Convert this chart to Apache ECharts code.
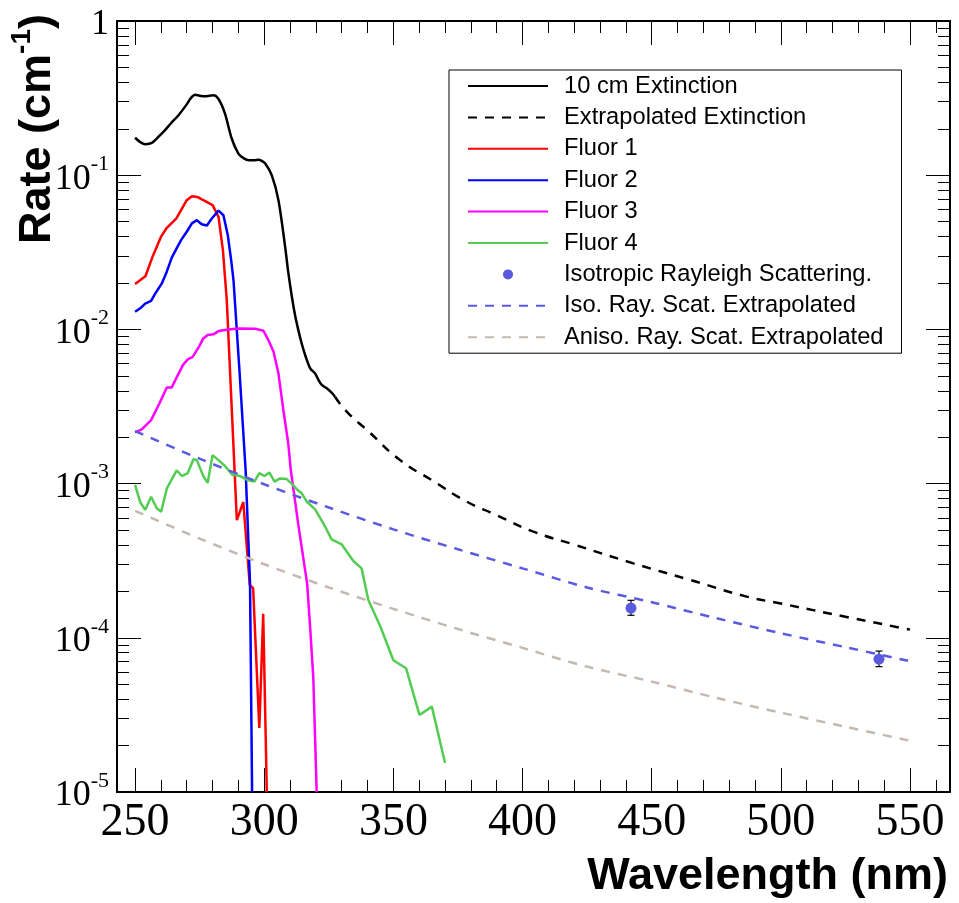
<!DOCTYPE html>
<html><head><meta charset="utf-8">
<script src="https://cdn.jsdelivr.net/npm/echarts@6/dist/echarts.min.js"></script>
<style>html,body{margin:0;padding:0;background:#fff}#c{width:959px;height:903px}</style>
</head><body><div id="c"></div><script>
// ---- data (wavelength nm, rate cm^-1) ----
const ext10cm = [[250,0.175],[252,0.164],[254,0.159],[256.5,0.162],[259,0.177],[261.6,0.196],[264,0.218],[266.8,0.245],[270,0.288],[271.5,0.315],[273.2,0.333],[275,0.328],[277.1,0.325],[280.3,0.33],[282.3,0.312],[284.8,0.251],[287.4,0.173],[290,0.138],[292,0.129],[294,0.125],[296,0.125],[297.7,0.126],[299,0.124],[300.4,0.119],[302.9,0.1],[305.5,0.0689],[308.1,0.0343],[309.3,0.0235],[310.7,0.0163],[312,0.0122],[313.2,0.00989],[314.5,0.0081],[316,0.0067],[317.8,0.00559],[319.7,0.00518],[321,0.0047],[322.3,0.00436],[324.2,0.00415],[326,0.0039],[327.4,0.00366]];
const extExtrap = [[327.4,0.00366],[332,0.00292],[340,0.00221],[352.6,0.00142],[365,0.00105],[378.4,7.64e-4],[390,6.24e-4],[404.2,4.88e-4],[420,4.02e-4],[442.9,3.04e-4],[465,2.37e-4],[486.8,1.85e-4],[500,1.67e-4],[525,1.37e-4],[550,1.13e-4]];
const fluor1 = [[250,0.0197],[254,0.0221],[257,0.0303],[260,0.0398],[262.3,0.0456],[266,0.0524],[270,0.0689],[272,0.0731],[274,0.0723],[277,0.0681],[280,0.064],[282.3,0.0537],[284,0.0327],[285.5,0.0155],[289.4,5.8e-4],[291.9,7.6e-4],[294.4,2.2e-4],[295.7,2.1e-4],[298.1,2.6e-5],[299.6,1.43e-4],[301,1e-5]];
const fluor2 = [[250,0.013],[252,0.0137],[253.9,0.0147],[256.2,0.0153],[258,0.0173],[260.3,0.0198],[262.2,0.0235],[264.2,0.0292],[266.4,0.0343],[267.8,0.0379],[270,0.043],[272,0.0487],[273.9,0.0511],[275.8,0.0481],[277.8,0.0472],[279.7,0.0524],[282.3,0.0589],[284.2,0.055],[285.9,0.0408],[287.2,0.0281],[288.1,0.0209],[290.4,5.45e-3],[292.8,1.22e-3],[294.5,2.26e-4],[295.3,1e-5]];
const fluor3 = [[250,2.15e-3],[252.6,2.25e-3],[256.2,2.58e-3],[259.4,3.31e-3],[262.3,4.2e-3],[264.2,4.2e-3],[265.9,4.81e-3],[268.5,5.87e-3],[270.4,6.39e-3],[272.3,6.64e-3],[274.7,7.7e-3],[276.4,8.74e-3],[278.1,9.19e-3],[280.3,9.29e-3],[282.3,9.75e-3],[286.1,0.01],[290,0.01015],[296.5,0.0101],[299.7,9.8e-3],[301.6,8.53e-3],[303.6,7.16e-3],[305.5,5.19e-3],[307.4,3.0e-3],[309.3,1.82e-3],[310.3,1.22e-3],[313.3,5.26e-4],[316.6,2.26e-4],[317.8,1.15e-4],[319,5.5e-5],[320.3,1e-5]];
const fluor4 = [[250,9.8e-4],[251.9,7.63e-4],[253.9,6.75e-4],[256.2,8.22e-4],[258.4,6.92e-4],[260.1,6.57e-4],[262.3,9.31e-4],[266.1,1.22e-3],[268.1,1.12e-3],[270.4,1.17e-3],[272.6,1.44e-3],[273.9,1.42e-3],[276.5,1.11e-3],[278.1,1.01e-3],[280,1.53e-3],[282.3,1.42e-3],[284.8,1.3e-3],[287.7,1.14e-3],[290.6,1.12e-3],[293.9,1.05e-3],[296.2,1.03e-3],[298.1,1.17e-3],[300.1,1.12e-3],[302,1.18e-3],[304,1.03e-3],[306.1,1.08e-3],[308.7,1.07e-3],[310.6,1.0e-3],[312.6,9.2e-4],[314.5,8.65e-4],[316.5,7.63e-4],[319.7,6.8e-4],[322.9,5.53e-4],[326.1,4.35e-4],[330,4.03e-4],[334.5,3.15e-4],[337.7,2.82e-4],[340.3,1.76e-4],[345,1.18e-4],[350,7.15e-5],[354.9,6.35e-5],[360.1,3.16e-5],[364.9,3.58e-5],[370,1.54e-5]];
const rayleighWl = [442, 538];
const rayleighRate = [1.56e-4, 7.27e-5];
const rayleighLo = [1.40e-4, 6.5e-5];
const rayleighHi = [1.75e-4, 8.2e-5];
const isoExtrap = [[250,2.19e-3],[275,1.45e-3],[300,9.9e-4],[325,7.0e-4],[350,5.05e-4],[375,3.75e-4],[400,2.82e-4],[425,2.12e-4],[450,1.70e-4],[475,1.34e-4],[500,1.07e-4],[525,8.7e-5],[550,7.05e-5]];
const anisoExtrap = [[250,6.65e-4],[275,4.4e-4],[300,3.0e-4],[325,2.12e-4],[350,1.54e-4],[375,1.14e-4],[400,8.6e-5],[425,6.5e-5],[450,5.2e-5],[475,4.08e-5],[500,3.27e-5],[525,2.65e-5],[550,2.15e-5]];
const seriesNames = ['10 cm Extinction','Extrapolated Extinction','Fluor 1','Fluor 2','Fluor 3','Fluor 4','Isotropic Rayleigh Scattering.','Iso. Ray. Scat. Extrapolated','Aniso. Ray. Scat. Extrapolated'];

const chart = echarts.init(document.getElementById('c'), null, {renderer:'canvas'});
const serif = 'Liberation Serif, Times New Roman, serif';
const sans = 'Liberation Sans, Arial, Helvetica, sans-serif';

function xAx(pos, showLabel) {
  return {
    type:'value', position:pos, min:243, max:565.5, splitNumber:6,
    axisLine:{show:true, onZero:false, lineStyle:{color:'#000', width:2}},
    axisTick:{show:true, inside:true, length:24, lineStyle:{color:'#000', width:1}},
    minorTick:{show:true, splitNumber:5, length:12, lineStyle:{color:'#000', width:1}},
    splitLine:{show:false}, minorSplitLine:{show:false},
    axisLabel:{show:showLabel, color:'#000', fontFamily:serif, fontSize:46, margin:8,
      formatter:v => (Math.abs(v % 50) < 1e-9 ? String(v) : '')}
  };
}
function yAx(pos, showLabel) {
  return {
    type:'log', logBase:10, position:pos, min:1e-5, max:1, splitNumber:5,
    axisLine:{show:true, onZero:false, lineStyle:{color:'#000', width:2}},
    axisTick:{show:true, inside:true, length:24, lineStyle:{color:'#000', width:1}},
    minorTick:{show:true, splitNumber:9, length:12, lineStyle:{color:'#000', width:1}},
    splitLine:{show:false}, minorSplitLine:{show:false},
    axisLabel:{show:showLabel, margin:8,
      formatter:v => { const e = Math.round(Math.log10(v)); return e === 0 ? '{n|1}' : '{n|10}{s|' + e + '}'; },
      rich:{
        n:{fontFamily:serif, fontSize:36, color:'#000', lineHeight:44, verticalAlign:'bottom'},
        s:{fontFamily:serif, fontSize:22, color:'#000', lineHeight:22, verticalAlign:'top'}
      }}
  };
}
function lineSeries(name, data, color, dashed, smooth) {
  return {type:'line', name, data, symbol:'none', smooth: smooth || false, clip:true,
    lineStyle:{color, width:2.5, type: dashed ? [9,8] : 'solid'}, itemStyle:{color}, z:3};
}
const errData = rayleighWl.map((w,i) => [w, rayleighRate[i], rayleighLo[i], rayleighHi[i]]);
const pointData = rayleighWl.map((w,i) => [w, rayleighRate[i]]);
const legendData = seriesNames.map((n, i) => i === 6 ? {name:n} : {name:n, itemStyle:{opacity:0}});

chart.setOption({
  animation:false,
  backgroundColor:'#fff',
  grid:{left:117, right:9, top:21, bottom:111, containLabel:false},
  xAxis:[xAx('bottom', true), xAx('top', false)],
  yAxis:[yAx('left', true), yAx('right', false)],
  legend:{orient:'vertical', left:449, top:70, padding:[3,18,3,18], itemWidth:80, itemHeight:10, itemGap:5.4,
    backgroundColor:'#fff', borderColor:'#000', borderWidth:1, borderRadius:0, selectedMode:false,
    textStyle:{fontFamily:sans, fontSize:23.7, color:'#000', lineHeight:26, padding:[0,0,0,11]},
    data:legendData},
  graphic:[
    {type:'text', x:948, y:877, style:{text:'Wavelength (nm)', font:'bold 45px ' + sans, fill:'#000', align:'right', verticalAlign:'middle'}},
    {type:'text', x:34, y:14, rotation:Math.PI/2,
      style:{text:'{b|Rate (cm}{s|-1}{b|)}', align:'right', verticalAlign:'middle', fill:'#000',
        rich:{b:{font:'bold 45px ' + sans, fill:'#000', lineHeight:52, verticalAlign:'bottom'},
              s:{font:'bold 28px ' + sans, fill:'#000', lineHeight:28, verticalAlign:'top'}}}}
  ],
  series:[
    lineSeries(seriesNames[0], ext10cm, '#000000', false, 0.3),
    lineSeries(seriesNames[1], extExtrap, '#000000', true, 0.5),
    lineSeries(seriesNames[2], fluor1, '#ff0000', false),
    lineSeries(seriesNames[3], fluor2, '#0000ff', false),
    lineSeries(seriesNames[4], fluor3, '#ff00ff', false),
    lineSeries(seriesNames[5], fluor4, '#52cc52', false),
    {type:'custom', name:'err', data:errData, encode:{x:0, y:1}, z:4, silent:true,
      renderItem:(params, api) => {
        const x = api.value(0);
        const pLo = api.coord([x, api.value(2)]);
        const pHi = api.coord([x, api.value(3)]);
        const c = 3.5;
        const st = {stroke:'#000', lineWidth:1.2};
        return {type:'group', children:[
          {type:'line', shape:{x1:pLo[0], y1:pLo[1], x2:pHi[0], y2:pHi[1]}, style:st},
          {type:'line', shape:{x1:pLo[0]-c, y1:pLo[1], x2:pLo[0]+c, y2:pLo[1]}, style:st},
          {type:'line', shape:{x1:pHi[0]-c, y1:pHi[1], x2:pHi[0]+c, y2:pHi[1]}, style:st}
        ]};
      }},
    {type:'scatter', name:seriesNames[6], data:pointData, symbol:'circle', symbolSize:11, itemStyle:{color:'#5a5ae0', opacity:1}, z:5},
    lineSeries(seriesNames[7], isoExtrap, '#5a5ae0', true, 0.3),
    lineSeries(seriesNames[8], anisoExtrap, '#c4b8b0', true, 0.3)
  ]
});
</script></body></html>
